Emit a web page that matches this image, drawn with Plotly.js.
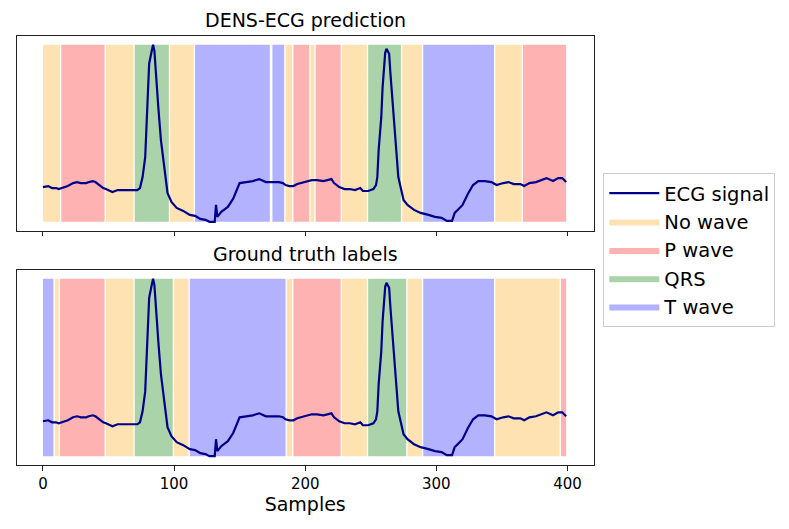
<!DOCTYPE html>
<html>
<head>
<meta charset="utf-8">
<script src="https://cdn.plot.ly/plotly-3.0.1.min.js"></script>
<style>html,body{margin:0;padding:0;background:#fff;}#chart{width:789px;height:529px;}</style>
</head>
<body>
<div id="chart"></div>
<script>
// ECG signal (sample index, amplitude)
var sampleX = [0,4,7,10,12,15,19,23,26,29,33,35,38,40,43,46,48,51,53,57,61,65,68,72,74,76,78,79,80,81,83,84,85,86,88,90,93,95,98,102,107,112,116,120,124,127,131,132,133,136,139,141,145,148,150,155,160,165,170,175,180,183,185,188,191,194,197,201,205,209,214,220,222,226,230,234,238,242,244,248,252,254,255,256,258,259,260,261,262,264,265,267,269,271,275,278,283,288,294,299,304,308,312,314,317,320,324,328,332,337,342,346,351,355,359,364,367,371,376,384,389,393,396,399];
var ecgY = [0.00,0.01,-0.01,-0.01,-0.02,-0.01,0.01,0.04,0.05,0.04,0.04,0.05,0.06,0.05,0.02,-0.01,-0.02,-0.04,-0.05,-0.03,-0.03,-0.03,-0.03,-0.03,-0.01,0.10,0.30,0.64,0.97,1.24,1.37,1.43,1.37,1.14,0.80,0.47,0.14,-0.06,-0.15,-0.21,-0.24,-0.28,-0.29,-0.32,-0.33,-0.35,-0.35,-0.18,-0.30,-0.25,-0.22,-0.20,-0.12,-0.03,0.04,0.05,0.06,0.08,0.05,0.05,0.05,0.04,0.02,0.01,0.01,0.03,0.04,0.05,0.07,0.07,0.06,0.08,0.04,0.00,-0.02,-0.02,-0.03,-0.01,-0.04,-0.04,-0.02,0.02,0.10,0.37,0.70,1.00,1.24,1.35,1.39,1.34,1.14,0.77,0.44,0.10,-0.13,-0.18,-0.23,-0.26,-0.28,-0.30,-0.31,-0.34,-0.34,-0.26,-0.22,-0.18,-0.07,0.02,0.06,0.06,0.05,0.02,0.04,0.05,0.03,0.03,0.01,0.04,0.05,0.09,0.06,0.09,0.09,0.05];

// Class names and colours
var classNames = ["No wave", "P wave", "QRS", "T wave"];
var classColors = ["#FFE2B2", "#FFB2B2", "#AAD3AA", "#B2B2FF"];

// Label segments: [start sample, end sample, class index]
var predRuns = [[0,13,0],[14,47,1],[48,69,0],[70,96,2],[97,115,0],[116,173,3],[174,174,0],[175,184,3],[185,190,0],[191,203,1],[204,207,0],[208,227,1],[228,247,0],[248,273,2],[274,289,0],[290,344,3],[345,365,0],[366,399,1]];
var truthRuns = [[0,8,3],[9,12,0],[13,47,1],[48,69,0],[70,99,2],[100,111,0],[112,185,3],[186,190,0],[191,227,1],[228,247,0],[248,277,2],[278,289,0],[290,344,3],[345,394,0],[395,399,1]];

var xTicks = [0,100,200,300,400];

var lo = Math.min.apply(null, ecgY), hi = Math.max.apply(null, ecgY);
var pad = 0.05 * (hi - lo);
var yRange = [lo - pad, hi + pad];

function spanTraces(runs, xa, ya, legend) {
  var out = [];
  for (var k = 0; k < classNames.length; k++) {
    var xs = [], ys = [];
    runs.forEach(function (r) {
      if (r[2] !== k) return;
      xs.push(r[0], r[1], r[1], r[0], r[0], null);
      ys.push(lo, lo, hi, hi, lo, null);
    });
    out.push({
      type: "scatter", mode: "lines", x: xs, y: ys, fill: "toself",
      fillcolor: classColors[k], line: {width: 0, color: classColors[k]},
      name: classNames[k], showlegend: legend, legendrank: k + 2,
      xaxis: xa, yaxis: ya, hoverinfo: "skip"
    });
  }
  return out;
}

var lineStyle = {color: "#00008B", width: 2.2};
var traces = []
  .concat(spanTraces(predRuns, "x", "y", true))
  .concat(spanTraces(truthRuns, "x2", "y2", false))
  .concat([
    {type: "scatter", mode: "lines", x: sampleX, y: ecgY, line: lineStyle, name: "ECG signal", legendrank: 1, xaxis: "x", yaxis: "y"},
    {type: "scatter", mode: "lines", x: sampleX, y: ecgY, line: lineStyle, name: "ECG signal", showlegend: false, xaxis: "x2", yaxis: "y2"}
  ]);

var axBase = {range: [-20, 420], showline: true, mirror: true, linecolor: "#222", linewidth: 1.1, showgrid: false, zeroline: false};
var xdom = [16.7/789, 593.7/789];
var layout = {
  width: 789, height: 529,
  margin: {l: 0, r: 0, t: 0, b: 0},
  paper_bgcolor: "#fff", plot_bgcolor: "#fff",
  font: {family: "DejaVu Sans", color: "#000"},
  showlegend: true,
  xaxis: Object.assign({}, axBase, {domain: xdom, anchor: "y", ticks: "outside", ticklen: 4.5, tickcolor: "#222", tickvals: xTicks, showticklabels: false}),
  yaxis: Object.assign({}, axBase, {range: yRange, domain: [1 - 230.7/529, 1 - 36/529], anchor: "x", showticklabels: false, ticks: ""}),
  xaxis2: Object.assign({}, axBase, {domain: xdom, anchor: "y2", ticks: "outside", ticklen: 4.5, tickcolor: "#222", tickvals: xTicks, ticktext: xTicks.map(String), tickfont: {size: 15, family: "DejaVu Sans"},
    title: {text: "Samples", font: {size: 19, family: "DejaVu Sans"}, standoff: 6}}),
  yaxis2: Object.assign({}, axBase, {range: yRange, domain: [1 - 465/529, 1 - 270/529], anchor: "x2", showticklabels: false, ticks: ""}),
  legend: {x: 603.3/789, y: 1 - 173/529, xanchor: "left", yanchor: "top", font: {size: 19.5, family: "DejaVu Sans"},
    bgcolor: "#fff", bordercolor: "#cccccc", borderwidth: 1, traceorder: "normal", tracegroupgap: 0, itemwidth: 50},
  annotations: [
    {text: "DENS-ECG prediction", xref: "paper", yref: "paper", x: 305.2/789, y: 1 - 20/529, xanchor: "center", yanchor: "middle", showarrow: false, font: {size: 19, family: "DejaVu Sans"}},
    {text: "Ground truth labels", xref: "paper", yref: "paper", x: 305.2/789, y: 1 - 254.3/529, xanchor: "center", yanchor: "middle", showarrow: false, font: {size: 19, family: "DejaVu Sans"}}
  ]
};

Plotly.newPlot("chart", traces, layout, {staticPlot: true, displayModeBar: false});
</script>
</body>
</html>
